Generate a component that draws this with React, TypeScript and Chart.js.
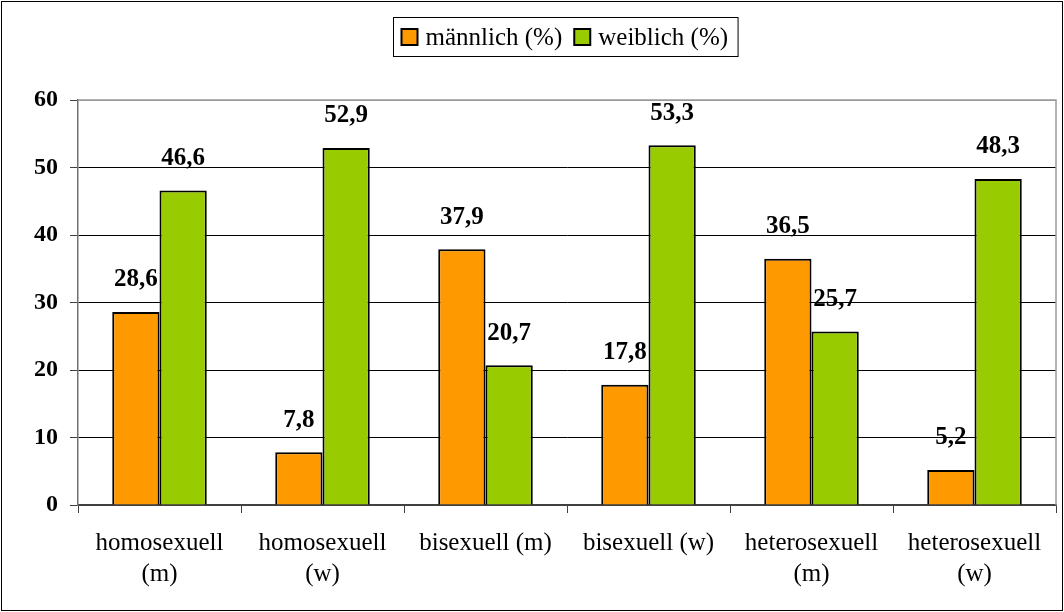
import React, { useEffect, useRef } from 'react';
import { Chart, registerables } from 'chart.js';
Chart.register(...registerables);

const categories: (string | string[])[] = [
  ['homosexuell', '(m)'],
  ['homosexuell', '(w)'],
  'bisexuell (m)',
  'bisexuell (w)',
  ['heterosexuell', '(m)'],
  ['heterosexuell', '(w)'],
];
const maleValues = [28.6, 7.8, 37.9, 17.8, 36.5, 5.2];
const femaleValues = [46.6, 52.9, 20.7, 53.3, 25.7, 48.3];
const seriesNames = ['männlich (%)', 'weiblich (%)'];
const seriesColors = ['#FF9900', '#99CC00'];
const yMin = 0;
const yMax = 60;
const yStep = 10;

const SERIF = "'Liberation Serif', 'Times New Roman', serif";

const fmt = (v: number) => v.toFixed(1).replace('.', ',');

const decorPlugin = {
  id: 'decor',
  afterDatasetsDraw(chart: any) {
    const ctx = chart.ctx;
    ctx.save();
    ctx.font = `bold 25px ${SERIF}`;
    ctx.fillStyle = '#000';
    ctx.textAlign = 'center';
    ctx.textBaseline = 'middle';
    chart.data.datasets.forEach((ds: any, di: number) => {
      const meta = chart.getDatasetMeta(di);
      meta.data.forEach((bar: any, i: number) => {
        ctx.fillText(fmt(ds.data[i]), bar.x, bar.y - 32);
      });
    });
    ctx.restore();
  },
  afterDraw(chart: any) {
    const ctx = chart.ctx;
    const a = chart.chartArea;
    ctx.save();
    // plot area top/right border
    ctx.strokeStyle = '#9a9a9a';
    ctx.lineWidth = 1.5;
    ctx.beginPath();
    ctx.moveTo(a.left, a.top);
    ctx.lineTo(a.right, a.top);
    ctx.lineTo(a.right, a.bottom);
    ctx.stroke();
    // outer border
    ctx.strokeStyle = '#000';
    ctx.lineWidth = 1;
    ctx.strokeRect(1.5, 1.5, chart.width - 3, chart.height - 3);
    // legend
    ctx.font = `25px ${SERIF}`;
    const box = 16;
    const gap = 8;
    const itemGap = 12;
    const padL = 8;
    const padR = 10;
    const widths = seriesNames.map((n) => ctx.measureText(n).width);
    const total = padL + padR + widths.reduce((s, w) => s + box + gap + w, 0) + itemGap * (seriesNames.length - 1);
    const cx = (a.left + a.right) / 2;
    const lx = Math.round(cx - total / 2 - 2) + 0.5;
    const ly = 17.5;
    const lh = 39;
    ctx.strokeStyle = '#000';
    ctx.lineWidth = 1;
    ctx.strokeRect(lx, ly, total, lh);
    let x = lx + padL;
    const cy = ly + lh / 2;
    ctx.textBaseline = 'middle';
    ctx.textAlign = 'left';
    seriesNames.forEach((n, i) => {
      ctx.fillStyle = seriesColors[i];
      ctx.fillRect(x, cy - box / 2, box, box);
      ctx.lineWidth = 2;
      ctx.strokeStyle = '#000';
      ctx.strokeRect(x, cy - box / 2, box, box);
      ctx.fillStyle = '#000';
      ctx.fillText(n, x + box + gap, cy + 1);
      x += box + gap + widths[i] + itemGap;
    });
    ctx.restore();
  },
};

export default function App() {
  const ref = useRef<HTMLCanvasElement | null>(null);
  useEffect(() => {
    document.body.style.margin = '0';
    if (!ref.current) return;
    const chart = new Chart(ref.current, {
      type: 'bar',
      data: {
        labels: categories as any,
        datasets: [
          {
            label: seriesNames[0],
            data: maleValues,
            backgroundColor: seriesColors[0],
            borderColor: '#000',
            borderWidth: 2,
            categoryPercentage: 0.58,
            barPercentage: 1.0,
          },
          {
            label: seriesNames[1],
            data: femaleValues,
            backgroundColor: seriesColors[1],
            borderColor: '#000',
            borderWidth: 2,
            categoryPercentage: 0.58,
            barPercentage: 1.0,
          },
        ],
      },
      options: {
        animation: false,
        responsive: false,
        maintainAspectRatio: false,
        layout: { padding: { top: 100, left: 10, right: 8, bottom: 0 } },
        plugins: {
          legend: { display: false },
          tooltip: { enabled: false },
        },
        scales: {
          x: {
            grid: {
              offset: true,
              drawOnChartArea: false,
              drawTicks: true,
              tickLength: 8,
              tickColor: '#404040',
            },
            border: { color: '#404040', width: 1.5 },
            ticks: {
              color: '#000',
              font: { family: SERIF, size: 25, lineHeight: 1.25 },
              maxRotation: 0,
              autoSkip: false,
              padding: 15,
            },
            afterFit(scale: any) {
              scale.height = 107;
            },
          },
          y: {
            min: yMin,
            max: yMax,
            ticks: {
              stepSize: yStep,
              color: '#000',
              font: { family: SERIF, size: 24, weight: 'bold' },
              padding: 12,
            },
            grid: {
              color: (c: any) => (c.tick && c.tick.value === yMax ? '#9a9a9a' : c.tick && c.tick.value === 0 ? '#404040' : '#000'),
              lineWidth: 1,
              tickLength: 8,
              tickColor: '#404040',
            },
            border: { color: '#707070', width: 1.5 },
            afterFit(scale: any) {
              scale.width = 68;
            },
          },
        },
      },
      plugins: [decorPlugin],
    });
    return () => chart.destroy();
  }, []);
  return (
    <div style={{ width: 1064, height: 612, background: '#fff' }}>
      <canvas ref={ref} width={1064} height={612} style={{ display: 'block' }} />
    </div>
  );
}
